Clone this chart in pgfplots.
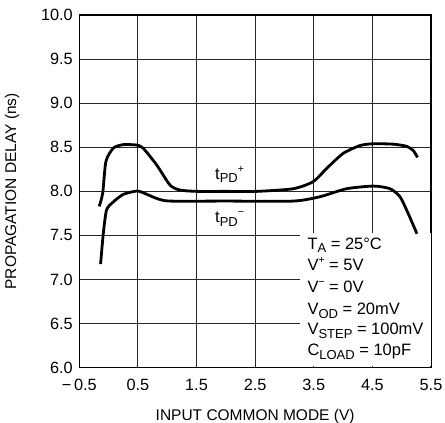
\documentclass[border=0pt]{standalone}
\usepackage{fontspec}
\setmainfont{Liberation Sans}
\usepackage{pgfplots}
\pgfplotsset{compat=1.18}
\newcommand{\sbs}[1]{\raisebox{-0.22em}{\fontsize{13bp}{13bp}\selectfont #1}}
\newcommand{\sps}[1]{\raisebox{0.42em}{\fontsize{10.5bp}{10.5bp}\selectfont #1}}
\begin{document}
\begin{tikzpicture}
\begin{axis}[name=ax, scale only axis, width=352bp, height=353bp,
  xmin=-0.5, xmax=5.5, ymin=6, ymax=10,
  xtick={-0.5,0.5,1.5,2.5,3.5,4.5,5.5},
  xticklabels={−\,0.5,0.5,1.5,2.5,3.5,4.5,5.5},
  ytick={6,6.5,7,7.5,8,8.5,9,9.5,10},
  yticklabels={6.0,6.5,7.0,7.5,8.0,8.5,9.0,9.5,10.0},
  grid=major, major grid style={black!85, line width=0.9bp},
  axis line style={black, line width=1.3bp},
  tick style={draw=none},
  tick label style={font=\fontsize{16.3bp}{17bp}\selectfont},
  xticklabel style={yshift=-8bp},
  yticklabel style={xshift=-3bp},
  label style={font=\fontsize{15.5bp}{16bp}\selectfont},
  xlabel={INPUT COMMON MODE (V)},
  ylabel={PROPAGATION DELAY (ns)},
  x label style={at={(axis description cs:0.5,-0.150)}, anchor=base},
  y label style={at={(axis description cs:-0.191,0.5)}, anchor=center},
]
\fill[white] (axis cs:3.27,6.02) rectangle (axis cs:5.5,7.53);
\addplot[black, line width=2.8bp, smooth, tension=0.4] coordinates {
(-0.159,7.83) (-0.10,7.98) (-0.045,8.34) (0.08,8.49) (0.25,8.53) (0.48,8.525)
(0.59,8.49) (0.82,8.30) (1.05,8.07) (1.22,8.015) (1.50,8.0) (2.0,8.0) (2.53,8.0)
(3.15,8.03) (3.49,8.11) (3.72,8.26) (4.0,8.43) (4.29,8.52) (4.52,8.54)
(4.86,8.535) (5.09,8.51) (5.2,8.46) (5.27,8.385)};
\addplot[black, line width=2.8bp, smooth, tension=0.4] coordinates {
(-0.136,7.176) (-0.09,7.52) (-0.034,7.79) (0.08,7.88) (0.25,7.966) (0.48,8.004)
(0.59,7.985) (0.82,7.92) (1.05,7.89) (2.0,7.89) (3.15,7.89) (3.61,7.94)
(4.06,8.03) (4.52,8.06) (4.8,8.03) (4.97,7.94) (5.11,7.75) (5.26,7.52)};
\node[anchor=base west, inner sep=0pt, font=\fontsize{16.5bp}{17bp}\selectfont] at (axis cs:1.816,8.14) {t\sbs{PD}\sps{+}};
\node[anchor=base west, inner sep=0pt, font=\fontsize{16.5bp}{17bp}\selectfont] at (axis cs:1.816,7.645) {t\sbs{PD}\sps{−}};
\begin{scope}[every node/.style={anchor=base west, inner sep=0pt, font=\fontsize{16.5bp}{17bp}\selectfont}]
\node at (axis cs:3.39,7.345) {T\sbs{A} = 25°C};
\node at (axis cs:3.39,7.101) {V\sps{+} = 5V};
\node at (axis cs:3.39,6.856) {V\sps{−} = 0V};
\node at (axis cs:3.39,6.599) {V\sbs{OD} = 20mV};
\node at (axis cs:3.39,6.372) {V\sbs{STEP} = 100mV};
\node at (axis cs:3.39,6.137) {C\sbs{LOAD} = 10pF};
\end{scope}
\end{axis}
\pgfresetboundingbox
\path[use as bounding box] ([shift={(-79.3bp,-55bp)}]ax.south west) rectangle ([shift={(14bp,15bp)}]ax.north east);
\end{tikzpicture}
\end{document}
